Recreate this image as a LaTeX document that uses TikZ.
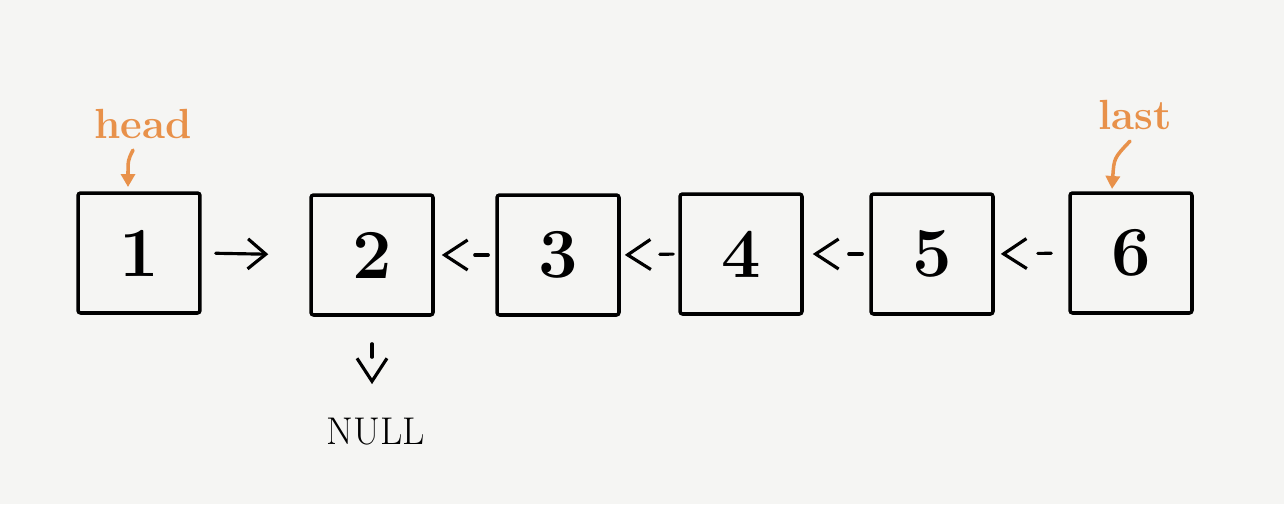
\documentclass[tikz,border=0pt]{standalone}
\usetikzlibrary{arrows.meta,positioning}
\definecolor{paper}{HTML}{F5F5F3}
\definecolor{tagorange}{HTML}{E8914A}
\tikzset{
  cell/.style={draw,line width=2pt,rounded corners=1.5pt,minimum width=2.44cm,minimum height=2.4cm,inner sep=0pt,font=\fontsize{40}{40}\selectfont\bfseries},
  tag/.style={text=tagorange,font=\fontsize{24}{24}\selectfont\bfseries,inner sep=0pt},
  tagptr/.style={draw=tagorange,line width=2pt,line cap=round,-{Triangle[length=0.26cm,width=0.28cm]}},
  fwdptr/.style={line width=1.8pt,line cap=round,-{Straight Barb[length=0.36cm,width=0.6cm]}},
  backptr/.style={line width=1.8pt,line cap=round,dash pattern=on 0.27cm off 1cm,-{Straight Barb[length=0.46cm,width=0.6cm]}}
}
\begin{document}
\begin{tikzpicture}[x=0.02cm,y=-0.02cm]
%paper
\fill[paper] (0,0) rectangle (1284,504);
\useasboundingbox (0,0) rectangle (1284,504);
%the list cells
\node[cell] (n1) at (139,253) {1};
\node[cell] (n2) at (372,255) {2};
\node[cell] (n3) at (558,255) {3};
\node[cell] (n4) at (741,254) {4};
\node[cell] (n5) at (932,254) {5};
\node[cell] (n6) at (1131,253) {6};
%pointers
\draw[fwdptr,shorten <=0.28cm,shorten >=0.82cm] (n1.east) -- (n2.west);
\draw[backptr,shorten <=0.14cm,shorten >=0.14cm] (n3.west) -- (n2.east);
\draw[backptr,shorten <=0.1cm,shorten >=0.08cm] (n4.west) -- (n3.east);
\draw[backptr,shorten <=0.14cm,shorten >=0.18cm] (n5.west) -- (n4.east);
\draw[backptr,shorten <=0.34cm,shorten >=0.12cm] (n6.west) -- (n5.east);
%null end
\node[font=\fontsize{22}{22}\selectfont,inner sep=0pt] (null) at (376,432) {NULL};
\draw[backptr,shorten <=0.54cm,shorten >=0.68cm] (n2.south) -- (n2.south |- null.north);
%head and last
\node[tag] (headlbl) at (143,124) {head};
\node[tag] (lastlbl) at (1135,115) {last};
\coordinate (headtip) at (128,187);
\coordinate (lasttip) at (1112,189);
\draw[tagptr] ([shift={(-10,11)}]headlbl.south) .. controls (128,160) .. (headtip);
\draw[tagptr] ([shift={(-5,11)}]lastlbl.south) .. controls (1114,158) .. (lasttip);
\end{tikzpicture}
\end{document}
